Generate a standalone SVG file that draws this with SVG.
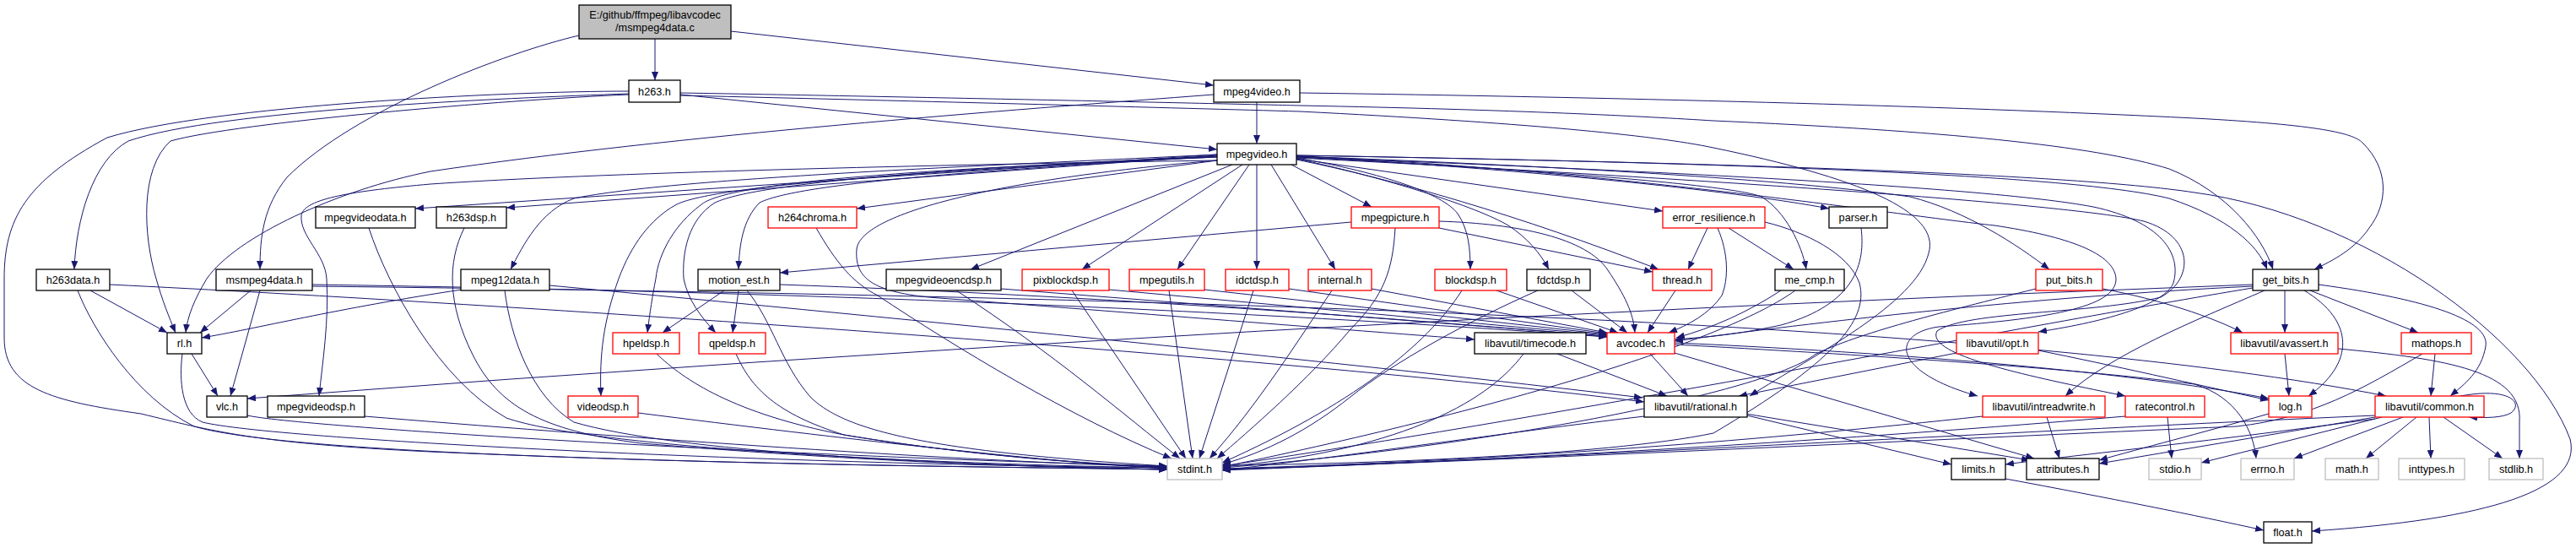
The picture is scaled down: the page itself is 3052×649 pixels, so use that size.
<svg xmlns="http://www.w3.org/2000/svg" width="3052" height="649" viewBox="0 0 3052 649">
<defs>
<marker id="a" markerWidth="10" markerHeight="8" refX="10" refY="4" orient="auto" markerUnits="userSpaceOnUse"><path d="M0,0 L10,4 L0,8 z" fill="#191970"/></marker>
<style>
.n rect{fill:#fff;stroke:#000;stroke-width:1.3}
.r rect{stroke:#ff0000}
.g rect{stroke:#bfbfbf}
.root rect{fill:#bfbfbf}
text{font-family:"Liberation Sans",Arial,sans-serif;font-size:12.7px;text-anchor:middle;fill:#000}
#edges path{fill:none;stroke:#191970;stroke-width:1;marker-end:url(#a)}
</style>
</defs>
<rect width="3052" height="649" fill="#fff"/>
<g id="edges">
<path d="M776,46 L776,95"/>
<path d="M866,37 L1438,101"/>
<path d="M686,42 C600,62 420,130 340,210 C312,245 308,280 308,319"/>
<path d="M806,112 L1442,177"/>
<path d="M745,111 C600,116 260,130 152,167 C110,190 90,260 88,319"/>
<path d="M745,112 C600,118 280,145 202,167 C165,200 170,280 185,330 C192,355 200,375 208,394"/>
<path d="M745,108 C600,108 250,125 127,163 C30,215 5,260 5,330 L5,400 C5,460 60,475 167,490 C250,510 300,525 510,535 C900,552 1200,553 1383,556"/>
<path d="M806,110 C1100,115 1500,124 1540,125 C1800,130 1950,138 2030,143 C2300,155 2480,172 2570,200 C2640,228 2680,280 2693,319"/>
<path d="M806,113 C1100,120 1400,128 1540,132 C1800,145 1960,160 2030,175 C2200,210 2300,250 2285,300 C2270,360 2150,420 2073,469"/>
<path d="M1489,121 L1489,170"/>
<path d="M1438,112 C1200,130 800,160 510,203 C400,225 280,280 245,330 C230,355 222,375 220,394"/>
<path d="M1540,110 C1900,115 2300,125 2600,140 C2750,148 2790,158 2800,170 C2830,200 2830,240 2807,270 C2790,295 2765,308 2742,319"/>
<path d="M1442,183 L492,247"/>
<path d="M1442,184 L600,246"/>
<path d="M1442,183 C1200,195 800,210 680,235 C640,250 620,290 605,319"/>
<path d="M1442,185 C1200,200 950,215 900,240 C880,260 876,290 875,319"/>
<path d="M1442,190 L1015,247"/>
<path d="M1442,186 C1100,200 860,215 830,243 C800,265 780,300 777,330 C773,350 770,370 767,394"/>
<path d="M1442,185 C1150,198 900,215 847,240 C815,260 808,300 810,330 C815,355 830,375 848,394"/>
<path d="M1442,186 C1100,202 840,220 800,243 C770,260 748,290 733,330 C715,380 710,420 712,469"/>
<path d="M1442,190 C1100,195 700,205 510,218 C420,226 360,235 357,255 C355,280 385,300 387,330 C390,380 382,430 378,469"/>
<path d="M1442,190 C1200,210 1020,250 1015,295 C1012,330 1035,345 1100,352 C1400,375 1650,395 1747,402"/>
<path d="M1460,195 L1150,319"/>
<path d="M1472,195 L1282,319"/>
<path d="M1480,195 L1395,319"/>
<path d="M1489,195 L1489,319"/>
<path d="M1506,195 L1582,319"/>
<path d="M1530,195 L1625,245"/>
<path d="M1536,187 C1640,205 1710,230 1727,253 C1740,272 1742,295 1742,319"/>
<path d="M1536,188 C1640,210 1750,245 1787,267 C1810,282 1825,300 1835,319"/>
<path d="M1536,189 C1650,212 1800,255 1965,319"/>
<path d="M1536,188 L1970,250"/>
<path d="M1536,185 C1800,200 2050,225 2167,247"/>
<path d="M1536,186 C1800,200 2050,218 2087,233 C2115,250 2135,290 2140,319"/>
<path d="M1536,185 C1800,195 2100,210 2263,233 C2330,250 2390,290 2428,319"/>
<path d="M1536,184 C2000,192 2450,205 2570,235 C2640,258 2675,290 2686,319"/>
<path d="M1536,184 C2000,192 2450,205 2600,228 C2800,255 3000,400 3045,520 C3060,580 2950,615 2739,629"/>
<path d="M1536,186 C1900,200 2350,220 2480,245 C2560,262 2585,300 2575,335 C2565,360 2500,380 2415,393"/>
<path d="M1536,185 C1900,200 2250,255 2363,267 C2450,280 2505,300 2507,330 C2508,365 2420,378 2297,387 C2240,395 2240,440 2343,469"/>
<path d="M1536,187 C1950,208 2450,240 2540,262 C2600,280 2600,330 2560,352 C2480,372 2330,368 2295,392 C2280,420 2400,445 2518,469"/>
<path d="M437,270 C460,340 520,450 600,495 C700,530 1100,550 1383,554"/>
<path d="M550,270 C530,310 530,360 560,420 C590,480 640,510 760,525 C1000,545 1200,553 1383,556"/>
<path d="M967,270 C990,310 1010,335 1040,350 C1130,410 1270,495 1388,543"/>
<path d="M1601,263 L924,323"/>
<path d="M1705,270 L1958,322"/>
<path d="M1653,270 C1650,320 1640,350 1600,390 C1550,450 1480,510 1442,543"/>
<path d="M1705,262 C1800,265 1880,282 1905,320 C1925,350 1935,370 1937,394"/>
<path d="M2023,270 L2000,319"/>
<path d="M2048,270 L2125,319"/>
<path d="M2035,270 C2048,300 2048,330 2040,350 C2025,372 2000,385 1977,394"/>
<path d="M2091,263 C2140,275 2190,300 2203,335 C2215,380 2170,430 2030,513 C1900,540 1600,550 1448,551"/>
<path d="M2205,270 C2210,310 2200,360 2110,385 C2050,398 2010,400 1984,402"/>
<path d="M107,344 L198,394"/>
<path d="M92,344 C110,390 160,470 230,505 C350,540 900,550 1383,556"/>
<path d="M130,337 C600,360 1500,420 1948,476"/>
<path d="M297,344 L237,394"/>
<path d="M308,344 L273,469"/>
<path d="M370,337 C700,342 1300,355 1904,399"/>
<path d="M370,339 C1500,352 2400,385 2827,469"/>
<path d="M547,343 C400,365 300,390 239,400"/>
<path d="M598,344 C605,400 630,470 680,500 C800,535 1100,550 1383,556"/>
<path d="M651,338 C1100,380 1600,430 1946,471"/>
<path d="M858,344 L785,394"/>
<path d="M875,344 L868,394"/>
<path d="M885,344 C915,380 925,430 960,470 C1000,510 1100,535 1383,552"/>
<path d="M924,337 C1300,350 1700,380 1904,399"/>
<path d="M1133,344 C1250,420 1330,490 1398,543"/>
<path d="M1186,342 L1904,398"/>
<path d="M1270,344 L1405,543"/>
<path d="M1314,343 L1904,397"/>
<path d="M1385,344 L1413,543"/>
<path d="M1427,343 L1904,396"/>
<path d="M1485,344 L1421,543"/>
<path d="M1527,342 L1904,395"/>
<path d="M1578,344 C1540,400 1490,480 1433,543"/>
<path d="M1625,342 L1904,394"/>
<path d="M1732,344 C1690,410 1600,480 1448,548"/>
<path d="M1773,344 L1917,394"/>
<path d="M1822,344 C1740,380 1650,430 1600,470 C1550,510 1500,535 1448,550"/>
<path d="M1862,344 L1928,394"/>
<path d="M1985,344 L1952,394"/>
<path d="M2110,344 C2070,370 2030,388 1986,400"/>
<path d="M2127,344 C2050,400 1800,480 1448,553"/>
<path d="M2412,342 C2300,370 2200,395 2150,420 C2100,460 1800,525 1448,554"/>
<path d="M2491,342 C2560,355 2620,375 2657,394"/>
<path d="M2669,337 Q1500,380 293,472"/>
<path d="M2669,339 C2400,352 2150,382 1984,404"/>
<path d="M2669,341 C2400,385 1900,485 1448,552"/>
<path d="M2683,344 C2600,380 2500,420 2447,469"/>
<path d="M2707,344 L2707,394"/>
<path d="M2730,344 C2790,380 2790,430 2735,469"/>
<path d="M2737,344 L2865,394"/>
<path d="M2747,337 C2880,355 2950,380 2945,410 C2940,440 2920,455 2903,469"/>
<path d="M1805,419 C1760,480 1650,535 1448,553"/>
<path d="M1845,419 L1975,469"/>
<path d="M1955,419 L2000,469"/>
<path d="M1984,418 L2410,543"/>
<path d="M1984,408 C2200,420 2450,435 2600,455 C2650,470 2670,510 2673,543"/>
<path d="M1984,406 C2300,420 2550,445 2688,472"/>
<path d="M2318,418 L2060,469"/>
<path d="M2415,415 C2500,432 2600,455 2688,474"/>
<path d="M2707,419 L2712,469"/>
<path d="M2770,413 C2900,425 2990,440 2985,500 L2985,543"/>
<path d="M2885,419 L2880,469"/>
<path d="M2870,419 C2800,460 2740,495 2650,505 C2300,520 1800,545 1448,556"/>
<path d="M1948,493 C1800,510 1600,540 1448,557"/>
<path d="M2070,492 L2312,550"/>
<path d="M2068,490 L2405,545"/>
<path d="M2425,494 L2440,543"/>
<path d="M2349,493 C2100,520 1800,545 1448,555"/>
<path d="M2568,494 L2573,543"/>
<path d="M2518,493 C2200,520 1800,545 1448,556"/>
<path d="M2688,490 C2600,515 2540,530 2487,545"/>
<path d="M2915,469 C2975,458 2990,478 2975,489 C2965,495 2945,495 2925,494"/>
<path d="M2822,494 L2608,548"/>
<path d="M2847,494 L2718,543"/>
<path d="M2863,494 L2803,543"/>
<path d="M2878,494 L2880,543"/>
<path d="M2895,494 L2965,543"/>
<path d="M2814,492 C2400,510 1900,540 1448,557"/>
<path d="M2814,494 L2487,549"/>
<path d="M2814,496 C2600,525 2450,540 2376,550"/>
<path d="M2376,567 C2500,590 2600,610 2682,628"/>
<path d="M227,419 L258,469"/>
<path d="M216,419 C212,450 215,490 240,500 C320,520 900,550 1383,554"/>
<path d="M293,492 C350,505 900,540 1383,552"/>
<path d="M432,493 C700,515 1100,545 1383,553"/>
<path d="M778,419 C810,450 870,490 1000,515 C1150,540 1300,550 1383,553"/>
<path d="M872,419 C890,460 920,490 1000,515 C1150,540 1300,550 1383,554"/>
<path d="M756,489 C1000,520 1250,548 1383,555"/>
</g>
<g id="n_root" class="n root"><rect x="686" y="6" width="180" height="40"/><text x="776" y="22">E:/github/ffmpeg/libavcodec</text><text x="776" y="37">/msmpeg4data.c</text></g>
<g id="n_h263" class="n"><rect x="745" y="95" width="61" height="26"/><text x="775.5" y="113">h263.h</text></g>
<g id="n_mpeg4video" class="n"><rect x="1438" y="95" width="102" height="26"/><text x="1489" y="113">mpeg4video.h</text></g>
<g id="n_mpegvideo" class="n"><rect x="1442" y="170" width="94" height="25"/><text x="1489" y="187">mpegvideo.h</text></g>
<g id="n_mpegvideodata" class="n"><rect x="374" y="245" width="118" height="25"/><text x="433" y="262">mpegvideodata.h</text></g>
<g id="n_h263dsp" class="n"><rect x="517" y="245" width="83" height="25"/><text x="558.5" y="262">h263dsp.h</text></g>
<g id="n_h264chroma" class="n r"><rect x="910" y="245" width="105" height="25"/><text x="962.5" y="262">h264chroma.h</text></g>
<g id="n_mpegpicture" class="n r"><rect x="1601" y="245" width="104" height="25"/><text x="1653" y="262">mpegpicture.h</text></g>
<g id="n_error_resilience" class="n r"><rect x="1970" y="245" width="121" height="25"/><text x="2030.5" y="262">error_resilience.h</text></g>
<g id="n_parser" class="n"><rect x="2167" y="245" width="69" height="25"/><text x="2201.5" y="262">parser.h</text></g>
<g id="n_h263data" class="n"><rect x="43" y="319" width="87" height="25"/><text x="86.5" y="336">h263data.h</text></g>
<g id="n_msmpeg4data" class="n"><rect x="256" y="319" width="114" height="25"/><text x="313" y="336">msmpeg4data.h</text></g>
<g id="n_mpeg12data" class="n"><rect x="546" y="319" width="105" height="25"/><text x="598.5" y="336">mpeg12data.h</text></g>
<g id="n_motion_est" class="n"><rect x="827" y="319" width="97" height="25"/><text x="875.5" y="336">motion_est.h</text></g>
<g id="n_mpegvideoencdsp" class="n"><rect x="1050" y="319" width="136" height="25"/><text x="1118" y="336">mpegvideoencdsp.h</text></g>
<g id="n_pixblockdsp" class="n r"><rect x="1211" y="319" width="103" height="25"/><text x="1262.5" y="336">pixblockdsp.h</text></g>
<g id="n_mpegutils" class="n r"><rect x="1338" y="319" width="89" height="25"/><text x="1382.5" y="336">mpegutils.h</text></g>
<g id="n_idctdsp" class="n r"><rect x="1452" y="319" width="75" height="25"/><text x="1489.5" y="336">idctdsp.h</text></g>
<g id="n_internal" class="n r"><rect x="1550" y="319" width="75" height="25"/><text x="1587.5" y="336">internal.h</text></g>
<g id="n_blockdsp" class="n r"><rect x="1700" y="319" width="85" height="25"/><text x="1742.5" y="336">blockdsp.h</text></g>
<g id="n_fdctdsp" class="n"><rect x="1809" y="319" width="75" height="25"/><text x="1846.5" y="336">fdctdsp.h</text></g>
<g id="n_thread" class="n r"><rect x="1958" y="319" width="70" height="25"/><text x="1993" y="336">thread.h</text></g>
<g id="n_me_cmp" class="n"><rect x="2103" y="319" width="82" height="25"/><text x="2144" y="336">me_cmp.h</text></g>
<g id="n_put_bits" class="n r"><rect x="2412" y="319" width="79" height="25"/><text x="2451.5" y="336">put_bits.h</text></g>
<g id="n_get_bits" class="n"><rect x="2669" y="319" width="78" height="25"/><text x="2708" y="336">get_bits.h</text></g>
<g id="n_rl" class="n"><rect x="198" y="394" width="41" height="25"/><text x="218.5" y="411">rl.h</text></g>
<g id="n_hpeldsp" class="n r"><rect x="726" y="394" width="79" height="25"/><text x="765.5" y="411">hpeldsp.h</text></g>
<g id="n_qpeldsp" class="n r"><rect x="828" y="394" width="79" height="25"/><text x="867.5" y="411">qpeldsp.h</text></g>
<g id="n_timecode" class="n"><rect x="1747" y="394" width="132" height="25"/><text x="1813" y="411">libavutil/timecode.h</text></g>
<g id="n_avcodec" class="n r"><rect x="1904" y="394" width="80" height="25"/><text x="1944" y="411">avcodec.h</text></g>
<g id="n_opt" class="n r"><rect x="2318" y="394" width="97" height="25"/><text x="2366.5" y="411">libavutil/opt.h</text></g>
<g id="n_avassert" class="n r"><rect x="2643" y="394" width="127" height="25"/><text x="2706.5" y="411">libavutil/avassert.h</text></g>
<g id="n_mathops" class="n r"><rect x="2845" y="394" width="83" height="25"/><text x="2886.5" y="411">mathops.h</text></g>
<g id="n_vlc" class="n"><rect x="245" y="469" width="48" height="25"/><text x="269" y="486">vlc.h</text></g>
<g id="n_mpegvideodsp" class="n"><rect x="317" y="469" width="115" height="25"/><text x="374.5" y="486">mpegvideodsp.h</text></g>
<g id="n_videodsp" class="n r"><rect x="673" y="469" width="83" height="25"/><text x="714.5" y="486">videodsp.h</text></g>
<g id="n_rational" class="n"><rect x="1948" y="469" width="122" height="25"/><text x="2009" y="486">libavutil/rational.h</text></g>
<g id="n_intreadwrite" class="n r"><rect x="2349" y="469" width="145" height="25"/><text x="2421.5" y="486">libavutil/intreadwrite.h</text></g>
<g id="n_ratecontrol" class="n r"><rect x="2518" y="469" width="94" height="25"/><text x="2565" y="486">ratecontrol.h</text></g>
<g id="n_log" class="n r"><rect x="2688" y="469" width="51" height="25"/><text x="2713.5" y="486">log.h</text></g>
<g id="n_common" class="n r"><rect x="2814" y="469" width="129" height="25"/><text x="2878.5" y="486">libavutil/common.h</text></g>
<g id="n_stdint" class="n g"><rect x="1383" y="543" width="65" height="25"/><text x="1415.5" y="560">stdint.h</text></g>
<g id="n_limits" class="n"><rect x="2312" y="543" width="64" height="25"/><text x="2344" y="560">limits.h</text></g>
<g id="n_attributes" class="n"><rect x="2401" y="543" width="86" height="25"/><text x="2444" y="560">attributes.h</text></g>
<g id="n_stdio" class="n g"><rect x="2546" y="543" width="62" height="25"/><text x="2577" y="560">stdio.h</text></g>
<g id="n_errno" class="n g"><rect x="2655" y="543" width="63" height="25"/><text x="2686.5" y="560">errno.h</text></g>
<g id="n_math" class="n g"><rect x="2755" y="543" width="63" height="25"/><text x="2786.5" y="560">math.h</text></g>
<g id="n_inttypes" class="n g"><rect x="2842" y="543" width="78" height="25"/><text x="2881" y="560">inttypes.h</text></g>
<g id="n_stdlib" class="n g"><rect x="2949" y="543" width="64" height="25"/><text x="2981" y="560">stdlib.h</text></g>
<g id="n_float" class="n"><rect x="2682" y="618" width="57" height="25"/><text x="2710.5" y="635">float.h</text></g>
</svg>
